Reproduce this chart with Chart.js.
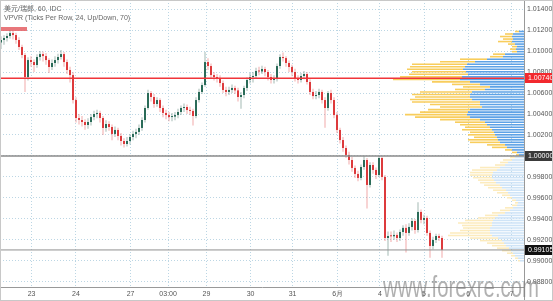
<!DOCTYPE html>
<html><head><meta charset="utf-8">
<script src="https://cdn.jsdelivr.net/npm/chart.js@4.4.1/dist/chart.umd.min.js"></script>
<style>html,body{margin:0;padding:0;background:#fff;}#wrap{position:relative;width:553px;height:301px;}canvas{display:block;}</style>
</head><body><div id="wrap"><canvas id="c" width="553" height="301"></canvas></div>
<script>
// ---------- DATA ----------
const chartTitle = '美元/瑞郎, 60, IDC';
const vpvrTitle = 'VPVR (Ticks Per Row, 24, Up/Down, 70)';
const watermark = 'www.forexre.com';

const xTickPos    = [10.2, 25, 43.2, 55.7, 68.5, 83.2, 97.2, 112.2, 126.3, 141, 155.7, 170.2];
const xTickLabels = ['23','24','27','03:00','29','30','31','6月','4','5','6','7'];
const yTicks = [1.014,1.012,1.010,1.008,1.006,1.004,1.002,1.000,0.998,0.996,0.994,0.992,0.990,0.988];

const openP = [1.01080,1.01105,1.01124,1.01143,1.01171,1.01152,1.01105,1.01038,1.00962,1.00752,
 1.00914,1.00895,1.00867,1.00943,1.00971,1.00952,1.00914,1.00848,1.00886,1.00914,
 1.00943,1.00971,1.00895,1.00819,1.00771,1.00533,1.00362,1.00343,1.00324,1.00295,
 1.00324,1.00371,1.00400,1.00410,1.00362,1.00267,1.00305,1.00276,1.00210,1.00248,
 1.00191,1.00143,1.00114,1.00143,1.00181,1.00210,1.00229,1.00267,1.00343,1.00457,
 1.00600,1.00562,1.00495,1.00533,1.00457,1.00410,1.00390,1.00371,1.00375,1.00390,
 1.00419,1.00457,1.00467,1.00438,1.00429,1.00381,1.00533,1.00610,1.00676,1.00895,
 1.00857,1.00771,1.00752,1.00743,1.00695,1.00629,1.00610,1.00629,1.00648,1.00625,
 1.00562,1.00581,1.00648,1.00724,1.00752,1.00762,1.00810,1.00805,1.00829,1.00800,
 1.00752,1.00724,1.00733,1.00857,1.00943,1.00933,1.00886,1.00848,1.00800,1.00743,
 1.00724,1.00762,1.00781,1.00705,1.00610,1.00571,1.00581,1.00610,1.00533,1.00457,
 1.00600,1.00533,1.00390,1.00248,1.00152,1.00076,1.00010,0.99962,0.99886,0.99829,
 0.99791,0.99895,0.99962,0.99724,0.99914,0.99867,0.99819,0.99981,0.99800,0.99219,
 0.99238,0.99235,0.99248,0.99219,0.99276,0.99315,0.99267,0.99324,0.99381,0.99295,
 0.99467,0.99391,0.99410,0.99267,0.99143,0.99200,0.99238,0.99219];
const highP = [1.01140,1.01150,1.01170,1.01200,1.01190,1.01175,1.01130,1.01060,1.00980,1.00940,
 1.00950,1.00920,1.00970,1.01000,1.00995,1.00980,1.00930,1.00920,1.00950,1.00975,
 1.01010,1.00990,1.00920,1.00850,1.00800,1.00560,1.00400,1.00380,1.00350,1.00360,
 1.00400,1.00430,1.00440,1.00430,1.00380,1.00340,1.00330,1.00300,1.00280,1.00270,
 1.00220,1.00170,1.00180,1.00210,1.00240,1.00260,1.00300,1.00370,1.00480,1.00630,
 1.00620,1.00590,1.00560,1.00550,1.00480,1.00440,1.00420,1.00410,1.00420,1.00450,
 1.00480,1.00500,1.00490,1.00470,1.00450,1.00560,1.00640,1.00700,1.00990,1.00930,
 1.00880,1.00800,1.00780,1.00770,1.00720,1.00660,1.00660,1.00680,1.00670,1.00650,
 1.00610,1.00670,1.00750,1.00790,1.00800,1.00840,1.00850,1.00860,1.00850,1.00820,
 1.00780,1.00770,1.00880,1.00970,1.00985,1.00950,1.00910,1.00870,1.00830,1.00770,
 1.00790,1.00810,1.00800,1.00730,1.00640,1.00620,1.00640,1.00630,1.00560,1.00620,
 1.00630,1.00560,1.00420,1.00270,1.00180,1.00100,1.00040,0.99990,0.99910,0.99860,
 0.99920,1.00000,0.99980,0.99940,0.99940,0.99890,1.00000,0.99995,0.99820,0.99280,
 0.99280,0.99290,0.99270,0.99300,0.99340,0.99350,0.99360,0.99410,0.99400,0.99560,
 0.99490,0.99440,0.99430,0.99290,0.99230,0.99260,0.99260,0.99240];
const lowP = [1.01020,1.01060,1.01090,1.01120,1.01110,1.01070,1.01010,1.00930,1.00610,1.00720,
 1.00850,1.00800,1.00840,1.00910,1.00900,1.00870,1.00790,1.00820,1.00850,1.00880,
 1.00920,1.00850,1.00780,1.00700,1.00500,1.00320,1.00300,1.00280,1.00250,1.00260,
 1.00290,1.00340,1.00360,1.00320,1.00200,1.00230,1.00240,1.00150,1.00180,1.00150,
 1.00100,1.00080,1.00090,1.00110,1.00150,1.00170,1.00200,1.00240,1.00320,1.00440,
 1.00520,1.00460,1.00470,1.00420,1.00370,1.00350,1.00330,1.00330,1.00340,1.00360,
 1.00390,1.00420,1.00400,1.00390,1.00290,1.00360,1.00510,1.00590,1.00660,1.00820,
 1.00740,1.00720,1.00700,1.00660,1.00600,1.00570,1.00580,1.00600,1.00590,1.00520,
 1.00450,1.00550,1.00620,1.00690,1.00700,1.00740,1.00770,1.00780,1.00760,1.00720,
 1.00690,1.00690,1.00710,1.00830,1.00900,1.00850,1.00800,1.00760,1.00710,1.00690,
 1.00700,1.00730,1.00680,1.00580,1.00540,1.00540,1.00550,1.00500,1.00270,1.00430,
 1.00500,1.00360,1.00220,1.00120,1.00040,0.99980,0.99920,0.99850,0.99790,0.99760,
 0.99770,0.99870,0.99500,0.99700,0.99830,0.99780,0.99800,0.99770,0.99190,0.99050,
 0.99180,0.99200,0.99180,0.99190,0.99240,0.99080,0.99240,0.99290,0.99260,0.99270,
 0.99360,0.99350,0.99240,0.99030,0.99110,0.99170,0.99190,0.99030];
const closeP = [1.01105,1.01124,1.01143,1.01171,1.01152,1.01105,1.01038,1.00962,1.00752,1.00914,
 1.00895,1.00867,1.00943,1.00971,1.00952,1.00914,1.00848,1.00886,1.00914,1.00943,
 1.00971,1.00895,1.00819,1.00771,1.00533,1.00362,1.00343,1.00324,1.00295,1.00324,
 1.00371,1.00400,1.00410,1.00362,1.00267,1.00305,1.00276,1.00210,1.00248,1.00191,
 1.00143,1.00114,1.00143,1.00181,1.00210,1.00229,1.00267,1.00343,1.00457,1.00600,
 1.00562,1.00495,1.00533,1.00457,1.00410,1.00390,1.00371,1.00375,1.00390,1.00419,
 1.00457,1.00467,1.00438,1.00429,1.00381,1.00533,1.00610,1.00676,1.00895,1.00857,
 1.00771,1.00752,1.00743,1.00695,1.00629,1.00610,1.00629,1.00648,1.00625,1.00562,
 1.00581,1.00648,1.00724,1.00752,1.00762,1.00810,1.00805,1.00829,1.00800,1.00752,
 1.00724,1.00733,1.00857,1.00943,1.00933,1.00886,1.00848,1.00800,1.00743,1.00724,
 1.00762,1.00781,1.00705,1.00610,1.00571,1.00581,1.00610,1.00533,1.00457,1.00600,
 1.00533,1.00390,1.00248,1.00152,1.00076,1.00010,0.99962,0.99886,0.99829,0.99791,
 0.99895,0.99962,0.99724,0.99914,0.99867,0.99819,0.99981,0.99800,0.99219,0.99238,
 0.99235,0.99248,0.99219,0.99276,0.99315,0.99267,0.99324,0.99381,0.99295,0.99467,
 0.99391,0.99410,0.99267,0.99143,0.99200,0.99238,0.99219,0.99105];

// Volume profile rows (row price, up volume, down volume)
const vpPrice = [1.01186,1.01162,1.01138,1.01114,1.01090,1.01066,1.01042,1.01018,1.00994,1.00970,
 1.00946,1.00922,1.00898,1.00874,1.00850,1.00826,1.00802,1.00778,1.00754,1.00730,
 1.00706,1.00682,1.00658,1.00634,1.00610,1.00586,1.00562,1.00538,1.00514,1.00490,
 1.00466,1.00442,1.00418,1.00394,1.00370,1.00346,1.00322,1.00298,1.00274,1.00250,
 1.00226,1.00202,1.00178,1.00154,1.00130,1.00106,1.00082,1.00058,1.00034,1.00010,
 0.99986,0.99962,0.99938,0.99914,0.99890,0.99866,0.99842,0.99818,0.99794,0.99770,
 0.99746,0.99722,0.99698,0.99674,0.99650,0.99626,0.99602,0.99578,0.99554,0.99530,
 0.99506,0.99482,0.99458,0.99434,0.99410,0.99386,0.99362,0.99338,0.99314,0.99290,
 0.99266,0.99242,0.99218,0.99194,0.99170,0.99146,0.99122,0.99098,0.99074,0.99050,
 0.99026,0.99002];
const vpUp = [5,11,12,11,12,9,7,8,7,19, 21,37,49,57,59,61,58,56,62,64,
 54,44,34,39,52,54,54,52,44,44, 42,54,56,57,54,44,39,37,34,32,
 30,29,27,26,24,19,17,12,7,5, 9,12,16,19,24,27,31,32,32,30,
 28,24,22,18,16,14,12,8,6,7, 11,14,19,26,29,31,32,32,34,34,
 34,32,26,22,20,18,15,13,11,9, 6,4];
const vpDown = [4,8,12,10,14,7,5,6,5,12, 13,27,35,55,55,56,54,59,62,67,
 38,28,27,30,52,58,55,62,68,50, 42,42,48,62,55,40,30,27,25,30,
 24,27,23,30,30,18,15,7,5,3, 5,9,8,10,20,25,23,22,19,16,
 16,16,14,13,11,8,5,4,3,5, 8,10,13,13,17,28,34,30,27,30,
 40,44,28,22,17,14,12,9,6,4, 3,2];
const vpValueAreaLow = 0.99998;
const vpScaleMax = 524;

// Horizontal price levels
const levelRed = 1.00740;
const levelBase = 1.00000;
const levelLast = 0.99105;
const markerPrice = 1.01210;
const markerFrom = 0, markerTo = 8.67;

// ---------- VIEW ----------
const xMin = -0.333, xMax = 174.333;
const yMin = 0.98752, yMax = 1.01486;

const UP = '#2a6b58', DOWN = '#dd3a3c';
const UPW = 'rgba(90,130,118,0.55)', DOWNW = 'rgba(232,100,100,0.55)';
const GRID = '#bcd6e4';
const isUp = i => closeP[i] >= openP[i];

Chart.defaults.font.family = '"Liberation Sans", Arial, sans-serif';
Chart.defaults.font.size = 7;
Chart.defaults.color = '#555';

const hline = (v, color, w, a, b) => ({
  type: 'line', data: [{x: a, y: v}, {x: b, y: v}], borderColor: color, borderWidth: w,
  pointRadius: 0, order: 0, xAxisID: 'x', yAxisID: 'y'
});

const decor = {
  id: 'decor',
  afterDraw(chart) {
    const {ctx, chartArea: a, scales: {y}} = chart;
    ctx.save();
    ctx.strokeStyle = '#999'; ctx.lineWidth = 1;
    ctx.beginPath(); ctx.moveTo(a.right + 0.5, 0); ctx.lineTo(a.right + 0.5, chart.height); ctx.stroke();
    const tags = [[levelRed, '#f2292e'], [levelBase, '#3a3a3a'], [levelLast, '#111']];
    ctx.font = '7px "Liberation Sans", Arial, sans-serif';
    ctx.textBaseline = 'middle'; ctx.textAlign = 'left';
    tags.forEach(([v, bg]) => {
      const py = Math.round(y.getPixelForValue(v));
      ctx.fillStyle = bg; ctx.fillRect(a.right + 1, py - 5, chart.width - a.right - 2, 10);
      ctx.fillStyle = '#fff'; ctx.fillText(v.toFixed(5), a.right + 4, py + 0.5);
    });
    ctx.fillStyle = '#666';
    ctx.font = '7px "Liberation Sans", "Noto Sans CJK SC", sans-serif';
    ctx.fillText(chartTitle, 4, 9);
    ctx.fillText(vpvrTitle, 4, 18);
    ctx.font = '29px "Liberation Sans", Arial, sans-serif';
    ctx.textBaseline = 'alphabetic';
    const w = ctx.measureText(watermark).width;
    ctx.translate(383, 297); ctx.scale(156 / w, 1);
    ctx.fillStyle = 'rgba(125,125,125,0.6)';
    ctx.fillText(watermark, 0, 0);
    ctx.restore();
    ctx.save();
    ctx.strokeStyle = '#c8c8c8'; ctx.lineWidth = 1;
    ctx.strokeRect(0.5, 0.5, chart.width - 1, chart.height - 1);
    ctx.restore();
  }
};

new Chart(document.getElementById('c'), {
  type: 'bar',
  data: {
    datasets: [
      hline(levelRed, '#f0353a', 1.6, xMin, xMax),
      hline(levelBase, '#8a8a8a', 1.4, xMin, xMax),
      hline(levelLast, '#8f8f8f', 1, xMin, xMax),
      hline(markerPrice, 'rgba(228,95,100,0.85)', 4, markerFrom, markerTo),
      {
        type: 'bar', order: 1, grouped: false, barThickness: 2, minBarLength: 1, inflateAmount: 0,
        data: closeP.map((c, i) => ({x: i, y: [openP[i], c]})),
        backgroundColor: ctx => isUp(ctx.dataIndex) ? UP : DOWN,
        xAxisID: 'x', yAxisID: 'y'
      },
      {
        type: 'bar', order: 2, grouped: false, barThickness: 1, minBarLength: 1, inflateAmount: 0,
        data: closeP.map((c, i) => ({x: i, y: [lowP[i], highP[i]]})),
        backgroundColor: ctx => isUp(ctx.dataIndex) ? UPW : DOWNW,
        xAxisID: 'x', yAxisID: 'y'
      },
      {
        type: 'bar', order: 3, indexAxis: 'y', grouped: false, stack: 'vp', barThickness: 1.6, inflateAmount: 0,
        data: vpPrice.map((p, i) => ({x: vpUp[i], y: p})),
        backgroundColor: ctx => vpPrice[ctx.dataIndex] >= vpValueAreaLow ? '#5ea2e6' : '#cfe4f7',
        xAxisID: 'xv', yAxisID: 'y'
      },
      {
        type: 'bar', order: 3, indexAxis: 'y', grouped: false, stack: 'vp', barThickness: 1.6, inflateAmount: 0,
        data: vpPrice.map((p, i) => ({x: vpDown[i], y: p})),
        backgroundColor: ctx => vpPrice[ctx.dataIndex] >= vpValueAreaLow ? '#f8cd5c' : '#fcebbd',
        xAxisID: 'xv', yAxisID: 'y'
      }
    ]
  },
  options: {
    responsive: false, animation: false, devicePixelRatio: 1,
    layout: {padding: 0},
    events: [],
    plugins: {legend: {display: false}, tooltip: {enabled: false}},
    scales: {
      x: {
        type: 'linear', position: 'bottom', min: xMin, max: xMax, offset: false,
        grid: {color: GRID, offset: false, drawTicks: false},
        border: {display: true, color: '#999', width: 1, dash: [1, 2]},
        afterBuildTicks: s => { s.ticks = xTickPos.map(v => ({value: v})); },
        afterFit: s => { s.height = 14; s.paddingLeft = 0; s.paddingRight = 0; },
        ticks: {autoSkip: false, maxRotation: 0, padding: 3, color: '#555',
          callback: (v, i) => xTickLabels[i]}
      },
      xv: {
        type: 'linear', axis: 'x', position: 'top', display: false, reverse: true,
        min: 0, max: vpScaleMax, offset: false, stacked: true, grid: {offset: false}
      },
      y: {
        type: 'linear', position: 'right', min: yMin, max: yMax, stacked: false, offset: false,
        grid: {color: GRID, drawTicks: false, offset: false},
        border: {display: true, color: '#999', width: 1, dash: [1, 2]},
        afterBuildTicks: s => { s.ticks = yTicks.map(v => ({value: v})); },
        afterFit: s => { s.width = 29; s.paddingTop = 0; s.paddingBottom = 0; },
        ticks: {padding: 3, color: '#555', callback: v => v.toFixed(5)}
      }
    }
  },
  plugins: [decor]
});
</script></body></html>
